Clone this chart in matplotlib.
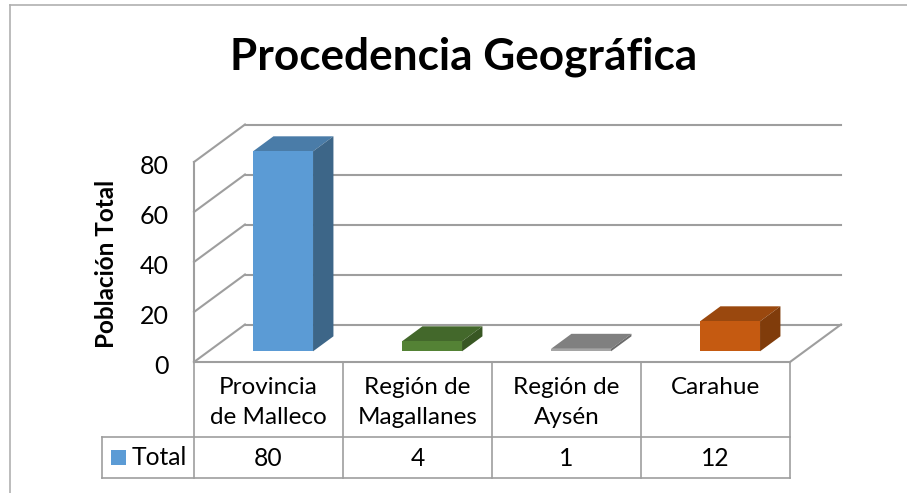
import matplotlib
matplotlib.use("Agg")
import matplotlib.pyplot as plt
from matplotlib.lines import Line2D
from matplotlib.patches import Polygon, Rectangle
from matplotlib.transforms import ScaledTranslation

plt.rcParams["font.family"] = ["Lato", "DejaVu Sans"]

# Data
categories = ["Provincia\nde Malleco", "Región de\nMagallanes", "Región de\nAysén", "Carahue"]
values = [80, 4, 1, 12]
series_name = "Total"
y_ticks = [0, 20, 40, 60, 80]

# Colours per bar: front, top, side
front_cols = ["#5B9BD5", "#548235", "#A5A5A5", "#C55A11"]
top_cols = ["#4A7CA8", "#43682B", "#808080", "#9A480E"]
side_cols = ["#3D6688", "#385723", "#6B6B6B", "#803C0B"]
GRID = "#9E9E9E"
TXT = "#000000"

W, H = 907, 493
fig = plt.figure(figsize=(W / 100, H / 100), dpi=100, facecolor="white")

# Axes covers the front plane of the 3D box
x0, x1, y0, y1 = 194, 790, 362, 162
ax = fig.add_axes([x0 / W, 1 - y0 / H, (x1 - x0) / W, (y0 - y1) / H])
ax.set_xlim(0, len(categories))
ax.set_ylim(0, 80)
ax.patch.set_visible(False)
for s in ax.spines.values():
    s.set_visible(False)

# Depth shift of the back wall, in data units
dx = 51 / 149
dy = 37.5 * 80 / 200


def oblique(x, y, d):
    return x + dx * d, y + dy * d


# Walls and floor
for t in y_ticks:
    xa, ya = oblique(0, t, 1)
    ax.plot([0, xa], [t, ya], color=GRID, lw=1.5, clip_on=False, zorder=1)
    ax.plot([xa, xa + len(categories)], [ya, ya], color=GRID, lw=1.5, clip_on=False, zorder=1)
ax.plot([0, 0], [0, 80], color=GRID, lw=1.5, clip_on=False, zorder=1)
xa, ya = oblique(len(categories), 0, 1)
ax.plot([len(categories), xa], [0, ya], color=GRID, lw=1.5, clip_on=False, zorder=1)

# 3D bars
bar_w = 60 / 149
d_front, d_back = 0.285, 0.685
for i, v in enumerate(values):
    left = i + 0.5 - bar_w / 2
    right = left + bar_w
    a = oblique(left, 0, d_front)
    b = oblique(right, 0, d_front)
    c = oblique(right, v, d_front)
    e = oblique(left, v, d_front)
    f = oblique(left, v, d_back)
    g = oblique(right, v, d_back)
    h = oblique(right, 0, d_back)
    ax.add_patch(Polygon([e, f, g, c], closed=True, fc=top_cols[i], ec="none", clip_on=False, zorder=3))
    ax.add_patch(Polygon([b, c, g, h], closed=True, fc=side_cols[i], ec="none", clip_on=False, zorder=3))
    ax.add_patch(Polygon([a, b, c, e], closed=True, fc=front_cols[i], ec="none", clip_on=False, zorder=4))

# Data table below the plot
row1 = -75 * 80 / 200
row2 = -116 * 80 / 200
label_x = -92 / 149
n = len(categories)
ax.plot([0, n], [0, 0], color=GRID, lw=1.5, clip_on=False, zorder=2)
ax.plot([label_x, n], [row1, row1], color=GRID, lw=1.2, clip_on=False, zorder=2)
ax.plot([label_x, n], [row2, row2], color=GRID, lw=1.2, clip_on=False, zorder=2)
ax.plot([label_x, label_x], [row1, row2], color=GRID, lw=1.2, clip_on=False, zorder=2)
for i in range(n + 1):
    ax.plot([i, i], [0, row2], color=GRID, lw=1.2, clip_on=False, zorder=2)
for i, (name, v) in enumerate(zip(categories, values)):
    ax.text(i + 0.5, -6.0, name, ha="center", va="top", fontsize=17.5, color=TXT,
            linespacing=1.55, clip_on=False)
    ax.text(i + 0.5, (row1 + row2) / 2 - 0.4, str(v), ha="center", va="center", fontsize=17.7, color=TXT, clip_on=False)

# Legend key inside the table
key_w = 15 / 149
key_h = 15 * 80 / 200
ax.add_patch(Rectangle((-83 / 149, (row1 + row2) / 2 - key_h / 2), key_w, key_h,
                       fc=front_cols[0], ec="none", clip_on=False))
ax.text(-62 / 149, (row1 + row2) / 2, series_name, ha="left", va="center", fontsize=17.7, color=TXT, clip_on=False)

# Axis
ax.set_xticks([])
ax.set_yticks(y_ticks)
ax.set_yticklabels([str(t) for t in y_ticks], fontsize=18, color=TXT)
ax.tick_params(axis="y", length=0, pad=18)
nudge = ScaledTranslation(0, -2 / 100, fig.dpi_scale_trans)
for lab in ax.get_yticklabels():
    lab.set_transform(lab.get_transform() + nudge)
fig.text(106 / W, 1 - 264 / H, "Población Total", rotation=90, ha="center", va="center",
         fontsize=17.5, fontweight="bold", color=TXT)

fig.text(464 / W, 1 - 57 / H, "Procedencia Geográfica", ha="center", va="center",
         fontsize=31.8, fontweight="bold", color=TXT)

# Chart area border (only top and left are in frame)
fig.add_artist(Line2D([10 / W, 10 / W], [0, 1 - 5 / H], color="#B0B0B0", lw=1.2))
fig.add_artist(Line2D([10 / W, 1], [1 - 5 / H, 1 - 5 / H], color="#B0B0B0", lw=1.2))

fig.savefig("out.png", dpi=100)
